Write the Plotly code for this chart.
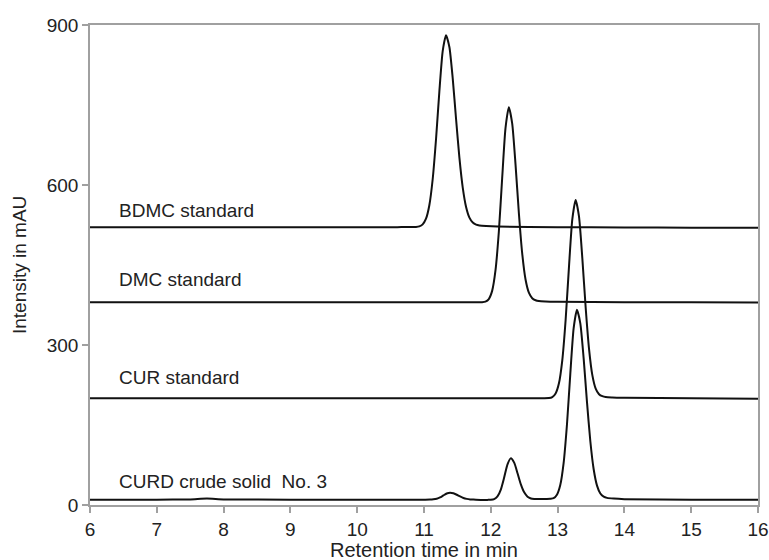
import plotly.graph_objects as go

# Retention time (min) and intensity (mAU)
bdmc_t = [6.0, 7.0, 8.0, 9.0, 10.0, 10.6, 10.88, 10.93, 10.98, 11.03, 11.08, 11.13, 11.18, 11.23, 11.28, 11.33,
          11.38, 11.43, 11.48, 11.53, 11.58, 11.63, 11.68, 11.73, 11.78, 11.83, 11.93, 12.1, 13.0, 14.0, 15.0, 16.0]
bdmc_i = [521, 521, 521, 521, 521, 521, 521.3, 522.4, 526.1, 536.8, 562.1, 610.8, 685.8, 775.4, 851.1, 881,
          858.8, 799.9, 723.8, 651.2, 595.1, 558.8, 538.8, 529.6, 525.6, 524.1, 523, 522, 521, 520.5, 520, 520]

dmc_t = [6.0, 7.0, 8.0, 9.0, 10.0, 11.0, 11.6, 11.87, 11.92, 11.97, 12.02, 12.07, 12.12, 12.17, 12.22, 12.27,
         12.32, 12.37, 12.42, 12.47, 12.52, 12.57, 12.62, 12.67, 12.72, 12.82, 13.0, 14.0, 15.0, 16.0]
dmc_i = [380, 380, 380, 380, 380, 380, 380, 380.3, 381.4, 386.2, 401.5, 439.7, 511.9, 612.6, 706.8, 746,
         715.6, 638.6, 547.6, 471.8, 422.8, 398.1, 387.7, 383.9, 382.3, 381.5, 381, 380, 380, 379.5]

cur_t = [6.0, 7.0, 8.0, 9.0, 10.0, 11.0, 12.0, 12.6, 12.87, 12.92, 12.97, 13.02, 13.07, 13.12, 13.17, 13.22, 13.27,
         13.32, 13.37, 13.42, 13.47, 13.52, 13.57, 13.62, 13.67, 13.72, 13.82, 14.0, 15.0, 16.0]
cur_i = [200, 200, 200, 200, 200, 200, 200, 200, 200.5, 202.3, 209, 228.1, 271.2, 346.8, 446.1, 535.5, 572,
         541.1, 462.9, 370.3, 293.3, 243.5, 218.3, 207.8, 204, 202.3, 201.5, 201, 200, 199]

curd_t = [6.0, 7.0, 7.5, 7.75, 8.0, 9.0, 10.0, 11.0, 11.09, 11.14, 11.19, 11.24, 11.29, 11.34, 11.39,
          11.44, 11.49, 11.54, 11.59, 11.64, 11.69, 11.74, 11.85, 11.95, 12.0, 12.05, 12.1, 12.15, 12.2, 12.25, 12.3,
          12.35, 12.4, 12.45, 12.5, 12.55, 12.6, 12.65, 12.7, 12.77, 12.84, 12.89, 12.94, 12.99, 13.04, 13.09, 13.14,
          13.19, 13.24, 13.29, 13.34, 13.39, 13.44, 13.49, 13.54, 13.59, 13.64, 13.69, 13.74, 13.84, 14.0, 15.0, 16.0]
curd_i = [10, 10, 10.5, 12, 10.5, 10, 10, 10, 10.1, 10.6, 11.8, 14.2, 17.9, 21.5, 23,
          21.9, 19.2, 16, 13.2, 11.5, 10.5, 10.1, 9.5, 9.6, 9.8, 11.1, 16.1, 29, 51.6, 76.3, 87.5,
          79.4, 59.6, 38.6, 23.7, 15.6, 12.3, 11.3, 11.2, 11.3, 11.4, 11.8, 12.7, 19.2, 37.4, 78.5, 150.5,
          245.5, 331.1, 366, 340.6, 274.8, 192.9, 119.5, 67, 36.3, 21.5, 15.6, 13.4, 12, 11, 10, 10]

labels = ["BDMC standard", "DMC standard", "CUR standard", "CURD crude solid  No. 3"]
label_y = [553, 422, 240, 44]
label_x = 6.41

x_ticks = [6, 7, 8, 9, 10, 11, 12, 13, 14, 15, 16]
y_ticks = [0, 300, 600, 900]

FONT = "Liberation Sans, Arial, sans-serif"
TXT = "#222222"
fig = go.Figure()
for t, i in [(bdmc_t, bdmc_i), (dmc_t, dmc_i), (cur_t, cur_i), (curd_t, curd_i)]:
    fig.add_trace(go.Scatter(x=t, y=i, mode="lines", showlegend=False,
                             line=dict(color="#111111", width=2, shape="spline", smoothing=0.6)))

for txt, yy in zip(labels, label_y):
    fig.add_annotation(x=label_x, y=yy, text=txt, showarrow=False, xanchor="left", yanchor="middle",
                       font=dict(family=FONT, size=19, color=TXT))

# axis titles
fig.add_annotation(xref="paper", yref="paper", x=0.5, y=0, yshift=-45, text="Retention time in min",
                   showarrow=False, xanchor="center", yanchor="middle",
                   font=dict(family=FONT, size=20, color=TXT))
fig.add_annotation(xref="paper", yref="paper", x=0, xshift=-71, y=0.5, text="Intensity in mAU",
                   showarrow=False, textangle=-90, xanchor="center", yanchor="middle",
                   font=dict(family=FONT, size=19, color=TXT))

axis_common = dict(showgrid=False, zeroline=False, showline=True, linecolor="#a0a0a0", linewidth=1.5,
                   mirror=True, ticks="outside", tickcolor="#a0a0a0", ticklen=6, tickwidth=1.5,
                   automargin=False, tickfont=dict(family=FONT, size=19, color=TXT))
fig.update_xaxes(range=[6, 16], tickvals=x_ticks, **axis_common)
fig.update_yaxes(range=[0, 900], tickvals=y_ticks, **axis_common)

fig.update_layout(width=769, height=560, margin=dict(l=90, r=11, t=25, b=55),
                  plot_bgcolor="white", paper_bgcolor="white")
# remove the default page margin so the figure fills the window exactly
fig.write_html("out.html", config={"displayModeBar": False},
               post_script="document.body.style.margin='0';document.body.style.overflow='hidden';")
